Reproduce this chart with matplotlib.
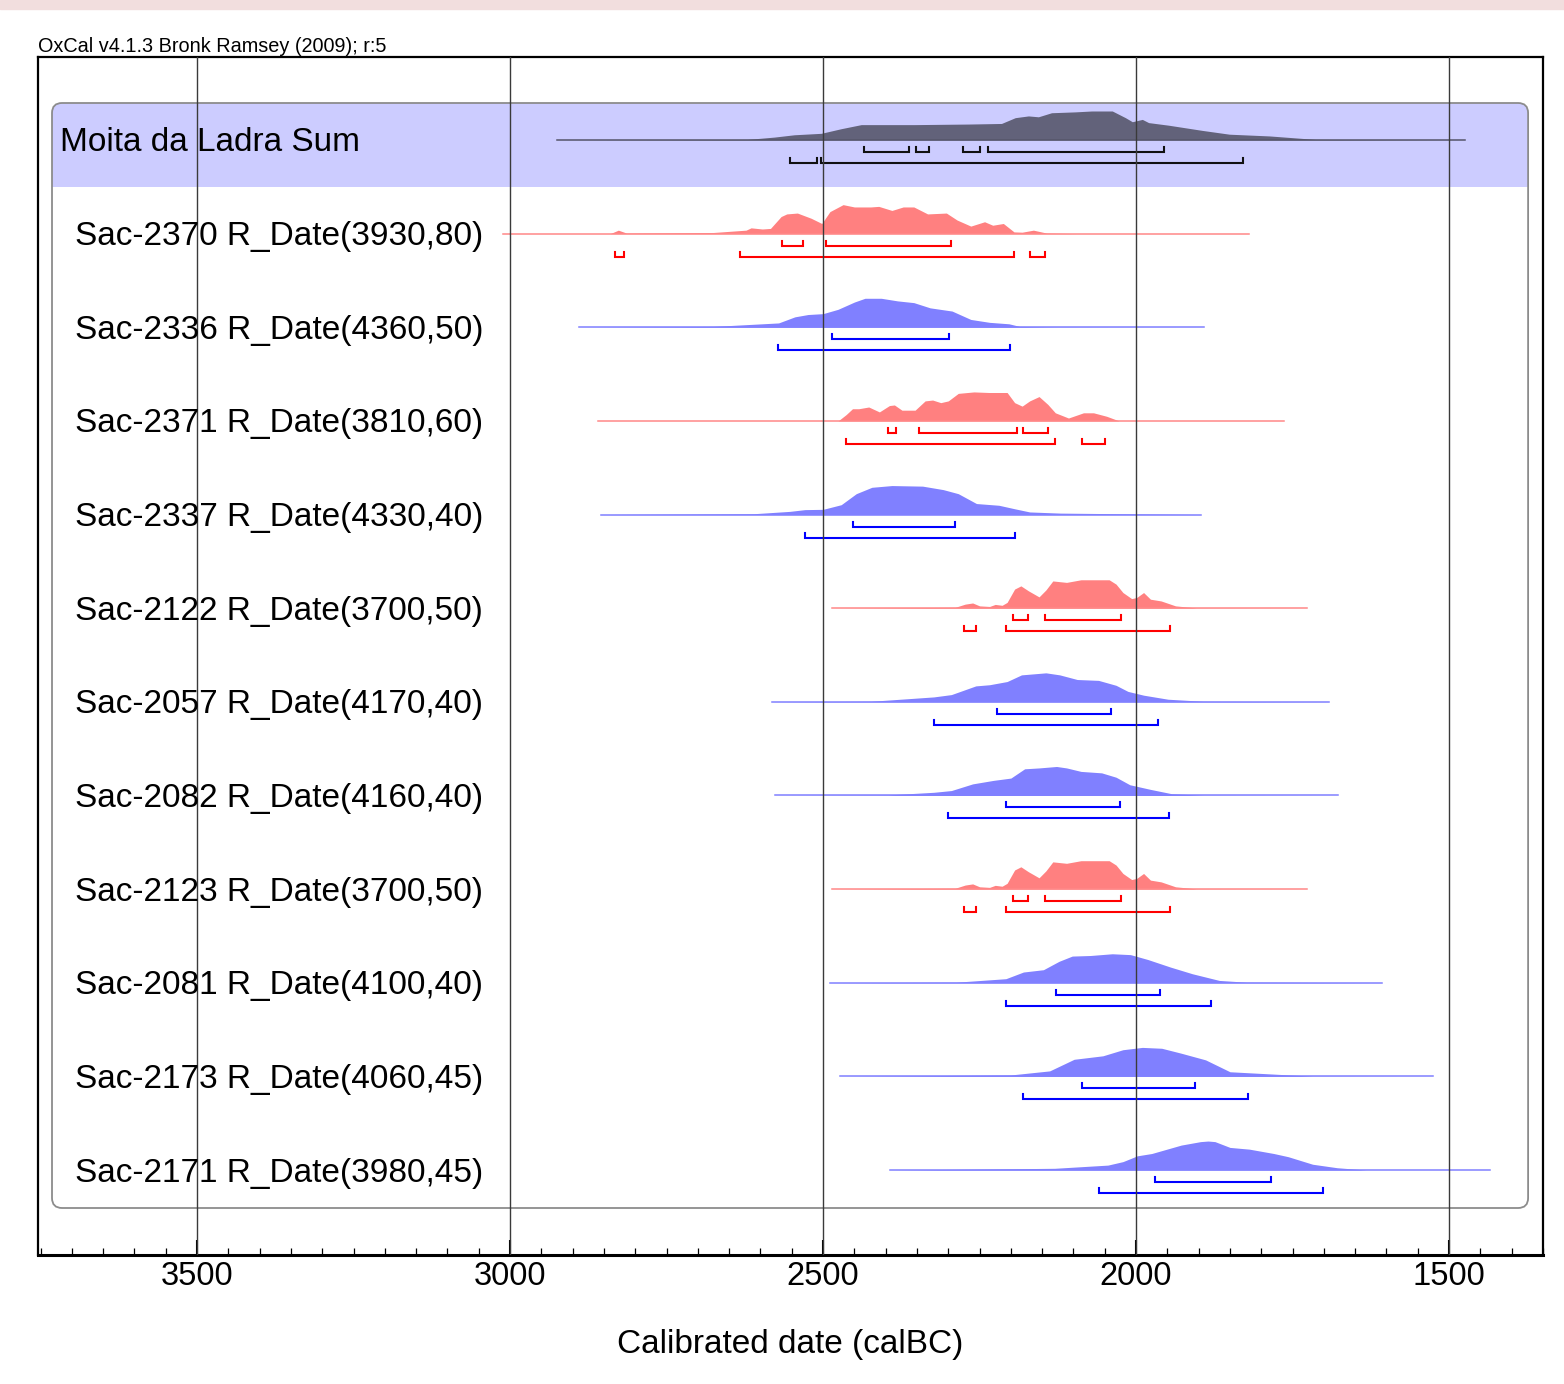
import matplotlib
matplotlib.use('Agg')
import matplotlib.pyplot as plt
from matplotlib.patches import FancyBboxPatch, Rectangle
from matplotlib.ticker import MultipleLocator

plt.rcParams['font.family'] = ['Liberation Sans', 'DejaVu Sans']

# --- data (calBC) ---
labels = ["Moita da Ladra Sum",
          "Sac-2370 R_Date(3930,80)",
          "Sac-2336 R_Date(4360,50)",
          "Sac-2371 R_Date(3810,60)",
          "Sac-2337 R_Date(4330,40)",
          "Sac-2122 R_Date(3700,50)",
          "Sac-2057 R_Date(4170,40)",
          "Sac-2082 R_Date(4160,40)",
          "Sac-2123 R_Date(3700,50)",
          "Sac-2081 R_Date(4100,40)",
          "Sac-2173 R_Date(4060,45)",
          "Sac-2171 R_Date(3980,45)"]
kinds = ["sum", "red", "blue", "red", "blue", "red", "blue", "blue", "red", "blue", "blue", "blue"]

sum_years = [2925, 2621, 2578, 2546, 2503, 2471, 2439, 2354, 2268, 2215, 2193, 2172, 2156, 2135,
             2097, 2071, 2038, 2017, 2006, 1990, 1980, 1948, 1894, 1851, 1787, 1713, 1474]
sum_dens = [0, 0.02, 0.10, 0.18, 0.23, 0.39, 0.53, 0.53, 0.55, 0.57, 0.77, 0.83, 0.80, 0.94,
            0.97, 1.0, 1.0, 0.77, 0.63, 0.71, 0.60, 0.51, 0.33, 0.20, 0.14, 0.02, 0]
sum_r68 = [(2434, 2362), (2351, 2330), (2276, 2249), (2236, 1955)]
sum_r95 = [(2553, 2510), (2504, 1829)]

s2370_years = [3011, 2840, 2827, 2814, 2675, 2623, 2615, 2597, 2584, 2567, 2558, 2541, 2519, 2502,
               2489, 2468, 2450, 2424, 2411, 2390, 2372, 2355, 2333, 2303, 2286, 2264, 2242, 2229,
               2212, 2195, 2182, 2164, 2143, 2095, 1820]
s2370_dens = [0, 0, 0.12, 0.02, 0.04, 0.12, 0.20, 0.16, 0.18, 0.59, 0.68, 0.71, 0.53, 0.35,
              0.76, 1.0, 0.92, 0.92, 0.94, 0.80, 0.92, 0.92, 0.68, 0.71, 0.47, 0.26, 0.41, 0.29,
              0.35, 0.06, 0.05, 0.12, 0.02, 0, 0]
s2370_r68 = [(2565, 2532), (2495, 2295)]
s2370_r95 = [(2832, 2818), (2632, 2195), (2170, 2145)]

s2336_years = [2890, 2675, 2597, 2571, 2545, 2524, 2500, 2476, 2450, 2433, 2407, 2381, 2355, 2329,
               2294, 2264, 2234, 2203, 2186, 2130, 1892]
s2336_dens = [0, 0.03, 0.12, 0.15, 0.36, 0.44, 0.47, 0.62, 0.87, 1.0, 1.0, 0.91, 0.85, 0.67,
              0.56, 0.27, 0.17, 0.12, 0.03, 0.01, 0]
s2336_r68 = [(2486, 2299)]
s2336_r95 = [(2572, 2202)]

s2371_years = [2860, 2476, 2463, 2453, 2443, 2427, 2410, 2394, 2386, 2374, 2353, 2337, 2325, 2312,
               2300, 2284, 2259, 2235, 2206, 2194, 2182, 2170, 2155, 2141, 2129, 2108, 2084, 2068,
               2047, 2027, 1764]
s2371_dens = [0, 0, 0.22, 0.42, 0.42, 0.48, 0.31, 0.53, 0.55, 0.37, 0.37, 0.69, 0.72, 0.63,
              0.69, 0.95, 1.0, 0.98, 0.98, 0.63, 0.51, 0.69, 0.84, 0.57, 0.28, 0.10, 0.28, 0.28,
              0.16, 0, 0]
s2371_r68 = [(2397, 2384), (2347, 2190), (2180, 2141)]
s2371_r95 = [(2463, 2130), (2087, 2050)]

s2337_years = [2855, 2610, 2553, 2529, 2500, 2471, 2447, 2422, 2390, 2341, 2308, 2284, 2255, 2219,
               2194, 2170, 2121, 1896]
s2337_dens = [0, 0.03, 0.11, 0.17, 0.18, 0.34, 0.72, 0.94, 1.0, 0.98, 0.86, 0.72, 0.38, 0.32,
              0.20, 0.09, 0.05, 0]
s2337_r68 = [(2452, 2290)]
s2337_r95 = [(2529, 2194)]

# Sac-2122 and Sac-2123 share the same date, and the same curve
s3700_years = [2485, 2289, 2273, 2261, 2250, 2234, 2225, 2214, 2206, 2194, 2184, 2172, 2155, 2144,
               2133, 2111, 2088, 2060, 2043, 2032, 2021, 2007, 1999, 1988, 1977, 1960, 1937, 1904,
               1727]
s3700_dens = [0, 0.03, 0.14, 0.18, 0.08, 0.06, 0.13, 0.10, 0.20, 0.66, 0.77, 0.60, 0.39, 0.63,
              0.94, 0.89, 0.98, 0.98, 0.98, 0.83, 0.54, 0.33, 0.37, 0.54, 0.31, 0.25, 0.08, 0.01,
              0]
s3700_r68 = [(2196, 2172), (2145, 2024)]
s3700_r95 = [(2275, 2256), (2208, 1946)]

s2057_years = [2582, 2423, 2323, 2295, 2256, 2234, 2206, 2183, 2144, 2122, 2094, 2060, 2032, 2013,
               1988, 1949, 1893, 1692]
s2057_dens = [0, 0.02, 0.17, 0.25, 0.55, 0.59, 0.70, 0.93, 1.0, 0.93, 0.77, 0.74, 0.57, 0.36,
              0.23, 0.09, 0.02, 0]
s2057_r68 = [(2222, 2040)]
s2057_r95 = [(2322, 1965)]

s2082_years = [2577, 2396, 2323, 2295, 2261, 2228, 2200, 2178, 2155, 2127, 2111, 2088, 2055, 2032,
               2010, 1977, 1943, 1893, 1678]
s2082_dens = [0, 0.02, 0.11, 0.17, 0.40, 0.52, 0.60, 0.92, 0.95, 1.0, 0.95, 0.83, 0.78, 0.63,
              0.37, 0.21, 0.06, 0.01, 0]
s2082_r68 = [(2207, 2026)]
s2082_r95 = [(2300, 1947)]

s2081_years = [2489, 2287, 2208, 2180, 2148, 2123, 2102, 2073, 2038, 2009, 1981, 1945, 1910, 1867,
               1824, 1607]
s2081_dens = [0, 0.02, 0.14, 0.37, 0.45, 0.74, 0.92, 0.94, 1.0, 0.97, 0.80, 0.54, 0.31, 0.08,
              0.02, 0]
s2081_r68 = [(2128, 1961)]
s2081_r95 = [(2207, 1880)]

s2173_years = [2473, 2200, 2138, 2099, 2053, 2021, 1990, 1959, 1928, 1889, 1850, 1772, 1718, 1526]
s2173_dens = [0, 0.05, 0.19, 0.59, 0.71, 0.92, 1.0, 0.97, 0.80, 0.57, 0.16, 0.07, 0.01, 0]
s2173_r68 = [(2087, 1906)]
s2173_r95 = [(2181, 1822)]

s2171_years = [2393, 2130, 2045, 2021, 1998, 1975, 1928, 1897, 1885, 1874, 1850, 1819, 1780, 1757,
               1718, 1679, 1632, 1435]
s2171_dens = [0, 0.06, 0.17, 0.29, 0.49, 0.57, 0.86, 0.98, 1.0, 0.98, 0.78, 0.72, 0.57, 0.46,
              0.20, 0.08, 0, 0]
s2171_r68 = [(1970, 1785)]
s2171_r95 = [(2060, 1702)]

rows = [(sum_years, sum_dens, sum_r68, sum_r95),
        (s2370_years, s2370_dens, s2370_r68, s2370_r95),
        (s2336_years, s2336_dens, s2336_r68, s2336_r95),
        (s2371_years, s2371_dens, s2371_r68, s2371_r95),
        (s2337_years, s2337_dens, s2337_r68, s2337_r95),
        (s3700_years, s3700_dens, s3700_r68, s3700_r95),
        (s2057_years, s2057_dens, s2057_r68, s2057_r95),
        (s2082_years, s2082_dens, s2082_r68, s2082_r95),
        (s3700_years, s3700_dens, s3700_r68, s3700_r95),
        (s2081_years, s2081_dens, s2081_r68, s2081_r95),
        (s2173_years, s2173_dens, s2173_r68, s2173_r95),
        (s2171_years, s2171_dens, s2171_r68, s2171_r95)]

# --- styles ---
styles = {
    "sum":  dict(fill="#62627a", line="#55556a", rng="#111111"),
    "red":  dict(fill="#ff8080", line="#ff8888", rng="#ff0000"),
    "blue": dict(fill="#8080ff", line="#8080ff", rng="#0000ff"),
}

# layout in pixels (y measured down from the top of the frame)
ROW0, ROWH = 83, 93.64
PEAK, OFF68, OFF95, TICK = 29, 12, 23, 5
YR_PER_PX = 500 / 313.0

fig = plt.figure(figsize=(15.64, 13.84), dpi=100)
fig.patches.append(Rectangle((0, 1 - 9 / 1384), 1, 9 / 1384, transform=fig.transFigure,
                             color="#f2dede", zorder=0))
ax = fig.add_axes([38 / 1564, 1 - 1255 / 1384, 1505 / 1564, 1198 / 1384])
ax.set_xlim(3754, 1350)
ax.set_ylim(1198, 0)

# rounded panel + lavender band for the Sum
px_l, px_r = 3500 + (197 - 52) * YR_PER_PX, 1500 - (1528 - 1449) * YR_PER_PX
panel_kw = dict(boxstyle="round,pad=0,rounding_size=16", mutation_aspect=10 / 16)
panel = FancyBboxPatch((px_r, 46), px_l - px_r, 1105, facecolor="white", edgecolor="none",
                       zorder=0, **panel_kw)
ax.add_patch(panel)
band = Rectangle((px_r, 46), px_l - px_r, 84, facecolor="#ccccff", edgecolor="none", zorder=0.5)
ax.add_patch(band)
band.set_clip_path(panel)
ax.add_patch(FancyBboxPatch((px_r, 46), px_l - px_r, 1105, facecolor="none", edgecolor="#8c8c8c",
                            lw=1.3, zorder=1, **panel_kw))

for i, (years, dens, r68, r95) in enumerate(rows):
    st = styles[kinds[i]]
    base = ROW0 + ROWH * i
    top = [base - PEAK * d for d in dens]
    ax.fill_between(years, base, top, color=st["fill"], lw=0, zorder=2)
    ax.plot([years[0], years[-1]], [base, base], color=st["line"], lw=1.1, zorder=2)
    for off, ranges in ((OFF68, r68), (OFF95, r95)):
        y = base + off
        for a, b in ranges:
            ax.plot([a, a, b, b], [y - TICK, y, y, y - TICK], color=st["rng"], lw=1.5,
                    solid_joinstyle="miter", zorder=3)
    x_lab = 3500 + (197 - (60 if i == 0 else 75)) * YR_PER_PX
    ax.text(x_lab, base + 3, labels[i], ha="left", va="center", fontsize=24, zorder=5)

for x in [3500, 3000, 2500, 2000, 1500]:
    ax.axvline(x, color="#3a3a3a", lw=1.0, zorder=4)

ax.set_xticks([3500, 3000, 2500, 2000, 1500])
ax.set_xticklabels(["3500", "3000", "2500", "2000", "1500"])
ax.xaxis.set_minor_locator(MultipleLocator(50))
ax.set_yticks([])
ax.tick_params(axis="x", which="major", direction="in", length=11, width=1.5, labelsize=23.5, pad=4)
ax.tick_params(axis="x", which="minor", direction="in", length=5, width=0.9)
for side in ["top", "left", "right"]:
    ax.spines[side].set_linewidth(1.6)
ax.spines["bottom"].set_linewidth(2.2)

ax.set_xlabel("Calibrated date (calBC)", fontsize=24, labelpad=27)
ax.text(0, 1.001, "OxCal v4.1.3 Bronk Ramsey (2009); r:5", transform=ax.transAxes,
        ha="left", va="bottom", fontsize=14.3)

fig.savefig("out.png", dpi=100)
